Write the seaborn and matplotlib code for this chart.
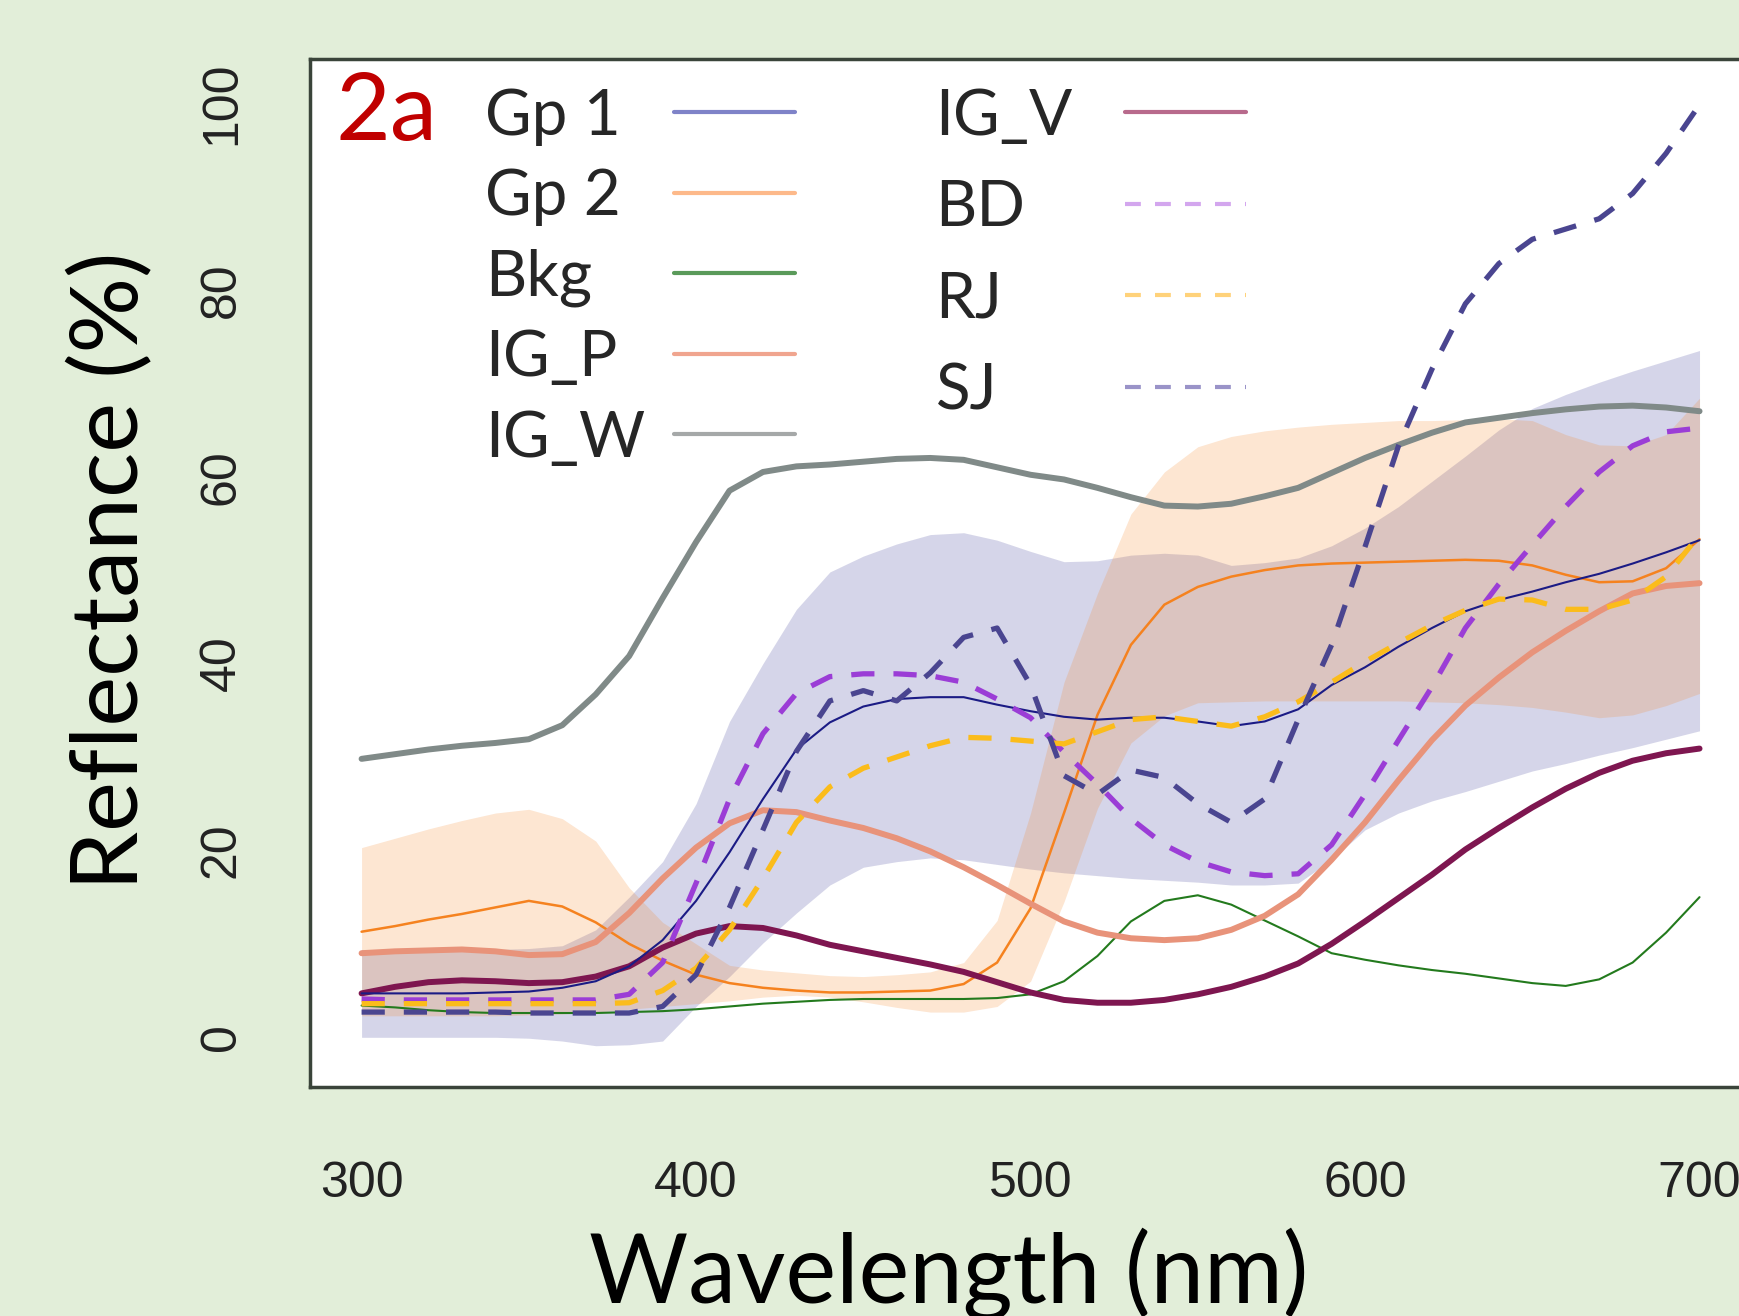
import numpy as np
import matplotlib
matplotlib.use('Agg')
import matplotlib.pyplot as plt
from matplotlib.lines import Line2D
import seaborn as sns

sns.set_theme(style='white')
plt.rcParams['font.family'] = ['Lato', 'DejaVu Sans']

# ===============================
# Data, reflectance % every 10 nm
# ===============================
wavelength = np.arange(300, 701, 10)

gp1 = [4.7, 4.7, 4.7, 4.7, 4.8, 4.9, 5.3, 6.0, 7.6, 10.4, 14.6, 19.8, 25.5, 30.8, 33.7, 35.4, 36.2, 36.4, 36.4, 35.6, 34.9,
       34.3, 34.0, 34.2, 34.2, 33.8, 33.3, 33.8, 35.1, 37.7, 39.6, 41.8, 43.8, 45.6, 46.8, 47.7, 48.7, 49.6, 50.7, 51.9, 53.2]
gp1_lo = [0.0, 0.0, 0.0, 0.0, 0.0, -0.1, -0.4, -0.9, -0.8, -0.4, 3.3, 6.5, 10.1, 13.3, 16.3, 18.2, 18.8, 19.2, 19.0, 18.5, 18.0,
          17.6, 17.3, 17.0, 16.8, 16.6, 16.3, 16.3, 16.5, 19.0, 22.2, 24.0, 25.3, 26.3, 27.4, 28.5, 29.3, 30.2, 31.0, 31.9, 32.8]
gp1_hi = [9.4, 9.4, 9.4, 9.4, 9.4, 9.5, 9.8, 11.5, 15.0, 18.8, 25.0, 33.8, 40.0, 45.8, 49.8, 51.5, 52.8, 53.8, 54.0, 53.2, 52.0,
          50.9, 51.0, 51.6, 51.8, 51.6, 50.5, 50.8, 51.3, 52.6, 54.5, 56.8, 59.5, 62.2, 65.0, 67.3, 68.8, 70.1, 71.3, 72.4, 73.5]

gp2 = [11.3, 11.9, 12.6, 13.2, 13.9, 14.6, 14.0, 12.3, 10.0, 8.2, 6.7, 5.8, 5.3, 5.0, 4.8, 4.8, 4.9, 5.0, 5.7, 8.0, 13.8,
       24.0, 34.5, 42.0, 46.3, 48.2, 49.3, 50.0, 50.5, 50.7, 50.8, 50.9, 51.0, 51.1, 51.0, 50.5, 49.5, 48.7, 48.8, 50.2, 53.3]
gp2_lo = [2.3, 2.3, 2.3, 2.3, 2.3, 2.4, 2.5, 2.7, 3.0, 3.3, 3.6, 3.9, 4.3, 4.5, 4.3, 3.8, 3.2, 2.7, 2.7, 3.3, 6.0,
          14.5, 24.5, 31.5, 34.4, 35.8, 35.9, 36.0, 36.0, 36.0, 36.0, 36.0, 35.9, 35.8, 35.6, 35.3, 34.8, 34.2, 34.5, 35.5, 36.8]
gp2_hi = [20.3, 21.3, 22.3, 23.2, 24.0, 24.4, 23.4, 21.0, 16.0, 12.3, 10.0, 7.7, 7.2, 6.9, 6.6, 6.5, 6.7, 7.0, 8.0, 12.5, 24.0,
          38.0, 47.5, 56.0, 60.5, 63.2, 64.3, 64.9, 65.3, 65.6, 65.8, 66.0, 66.0, 66.1, 66.2, 66.0, 64.5, 63.4, 63.3, 64.5, 68.4]

bkg = [3.4, 3.2, 2.9, 2.7, 2.6, 2.6, 2.6, 2.6, 2.7, 2.8, 3.0, 3.3, 3.6, 3.8, 4.0, 4.1, 4.1, 4.1, 4.1, 4.2, 4.6,
       6.0, 8.7, 12.4, 14.6, 15.2, 14.2, 12.5, 10.8, 9.0, 8.3, 7.7, 7.2, 6.8, 6.3, 5.8, 5.5, 6.2, 8.0, 11.2, 15.0]
ig_p = [9.0, 9.2, 9.3, 9.4, 9.2, 8.8, 8.9, 10.2, 13.3, 17.0, 20.3, 22.9, 24.3, 24.1, 23.2, 22.4, 21.3, 19.9, 18.2, 16.3, 14.3,
        12.4, 11.2, 10.6, 10.4, 10.6, 11.5, 13.0, 15.3, 19.0, 23.0, 27.5, 31.8, 35.5, 38.5, 41.2, 43.5, 45.6, 47.5, 48.3, 48.6]
ig_w = [29.8, 30.3, 30.8, 31.2, 31.5, 31.9, 33.4, 36.7, 40.8, 47.0, 53.0, 58.5, 60.5, 61.1, 61.3, 61.6, 61.9, 62.0, 61.8, 61.0, 60.2,
        59.7, 58.8, 57.8, 56.9, 56.8, 57.1, 57.9, 58.8, 60.4, 62.0, 63.4, 64.7, 65.8, 66.3, 66.8, 67.2, 67.5, 67.6, 67.4, 67.0]
ig_v = [4.7, 5.4, 5.9, 6.1, 6.0, 5.8, 5.9, 6.5, 7.6, 9.6, 11.1, 11.9, 11.7, 10.9, 9.9, 9.2, 8.5, 7.8, 7.0, 5.9, 4.8,
        4.0, 3.7, 3.7, 4.0, 4.6, 5.4, 6.5, 7.9, 10.0, 12.4, 14.9, 17.4, 20.1, 22.4, 24.6, 26.6, 28.3, 29.6, 30.4, 30.9]
bd = [4.1, 4.0, 4.0, 4.0, 4.0, 4.0, 4.0, 4.0, 4.6, 8.0, 16.5, 25.5, 32.5, 36.8, 38.6, 38.9, 38.9, 38.7, 38.0, 36.2, 34.2,
      30.5, 27.1, 23.4, 20.6, 18.8, 17.7, 17.3, 17.5, 20.6, 26.0, 31.8, 37.5, 43.8, 48.5, 52.7, 56.8, 60.5, 63.3, 64.8, 65.2]
rj = [3.6, 3.6, 3.6, 3.6, 3.6, 3.6, 3.6, 3.6, 3.7, 5.0, 7.4, 11.5, 17.0, 23.0, 26.8, 28.8, 30.0, 31.2, 32.1, 32.0, 31.7,
      31.4, 32.7, 34.0, 34.3, 33.8, 33.3, 34.3, 35.9, 38.0, 40.2, 42.2, 44.1, 45.7, 46.9, 46.8, 45.8, 45.8, 46.8, 49.3, 53.8]
sj = [2.7, 2.7, 2.7, 2.7, 2.7, 2.6, 2.6, 2.6, 2.6, 3.3, 6.7, 13.9, 22.2, 30.6, 36.0, 37.1, 36.0, 39.0, 42.8, 43.8, 37.7,
      28.0, 26.0, 28.6, 27.8, 25.0, 23.0, 25.5, 34.0, 42.0, 52.5, 63.3, 71.5, 78.5, 82.8, 85.4, 86.5, 87.6, 90.3, 94.6, 99.8]

names = ['Gp 1', 'Gp 2', 'Bkg', 'IG_P', 'IG_W', 'IG_V', 'BD', 'RJ', 'SJ']
values = [gp1, gp2, bkg, ig_p, ig_w, ig_v, bd, rj, sj]
colors = ['#1b1b85', '#f5821f', '#237a1d', '#e8937a', '#808a88', '#7e1650', '#9b3dd6', '#fbbc1b', '#4a4590']
legend_colors = ['#7f83c8', '#fdb98a', '#5a9a5a', '#f0a58f', '#a5a8a8', '#b86a8c', '#d3a6ee', '#ffd27a', '#9a93c8']
widths = [1.5, 1.8, 1.5, 4.3, 4.3, 4.3, 3.8, 3.8, 3.8]
dashed = [False, False, False, False, False, False, True, True, True]
draw_order = ['IG_W', 'Gp 2', 'Bkg', 'IG_P', 'IG_V', 'Gp 1', 'BD', 'RJ', 'SJ']

# ===============================
# Figure
# ===============================
fig = plt.figure(figsize=(17.4, 13.16), dpi=100, facecolor='#e2eed9')
ax = fig.add_axes([0.1782, 0.1740, 0.8293, 0.7812])
ax.set_facecolor('white')

# shaded ranges of the two groups
ax.fill_between(wavelength, gp1_lo, gp1_hi, color=colors[0], alpha=0.18, lw=0)
ax.fill_between(wavelength, gp2_lo, gp2_hi, color=colors[1], alpha=0.2, lw=0)

for name in draw_order:
    i = names.index(name)
    ls = (0, (4.4, 3.6)) if dashed[i] else '-'
    sns.lineplot(x=wavelength, y=values[i], ax=ax, color=colors[i], linewidth=widths[i],
                 linestyle=ls, legend=False, errorbar=None)

ax.set_xlim(284.6, 716)
ax.set_ylim(-5.32, 104.7)
ax.set_xticks([300, 400, 500, 600, 700])
ax.set_yticks([0, 20, 40, 60, 80, 100])

for s in ax.spines.values():
    s.set_color('#3a443a')
    s.set_linewidth(2.5)

ax.tick_params(axis='both', direction='out', length=21, width=2, color='#222222',
               labelsize=36, labelcolor='#222222')
ax.tick_params(axis='x', pad=32)
ax.tick_params(axis='y', pad=26, labelrotation=90)
for lab in ax.get_xticklabels() + ax.get_yticklabels():
    lab.set_family(['Liberation Sans', 'DejaVu Sans'])
for lab in ax.get_yticklabels():
    lab.set_va('center')

ax.set_xlabel('Wavelength (nm)', fontsize=69, color='black')
ax.xaxis.set_label_coords(0.4428, -0.210)
ax.xaxis.label.set_va('baseline')
ax.set_ylabel('Reflectance (%)', fontsize=68, color='black')
ax.yaxis.set_label_coords(-0.138, 0.502)
ax.yaxis.label.set_va('center')

ax.text(0.0173, 0.921, '2a', transform=ax.transAxes, color='#c00000', fontsize=68,
        ha='left', va='baseline')

# legend: labels on the left, line samples on the right
handles = [Line2D([], [], color=legend_colors[i], lw=3,
                  ls=(0, (3.8, 3.4)) if dashed[i] else '-') for i in range(len(names))]
leg = ax.legend(handles, names, ncol=2, loc='upper left', bbox_to_anchor=(0.121, 0.972),
                frameon=False, markerfirst=False, fontsize=46, handlelength=1.9,
                handletextpad=0.45, columnspacing=2.2, labelspacing=0.35,
                borderpad=0, borderaxespad=0)

# left-align the labels while keeping the line samples lined up
fig.canvas.draw()
renderer = fig.canvas.get_renderer()
px_per_pt = renderer.points_to_pixels(1.0)
columns = leg._legend_handle_box.get_children()
for k, col in enumerate(columns):
    col.align = 'left'
    rows = col.get_children()
    text_w = [row.get_children()[0].get_window_extent(renderer).width for row in rows]
    for row, w in zip(rows, text_w):
        row.sep = row.sep + (max(text_w) - w) / px_per_pt
        if k == 1:
            row.sep = row.sep + 17
    if k == 1:
        col.sep = col.sep + 8

fig.savefig('out.png', dpi=100, facecolor=fig.get_facecolor())
